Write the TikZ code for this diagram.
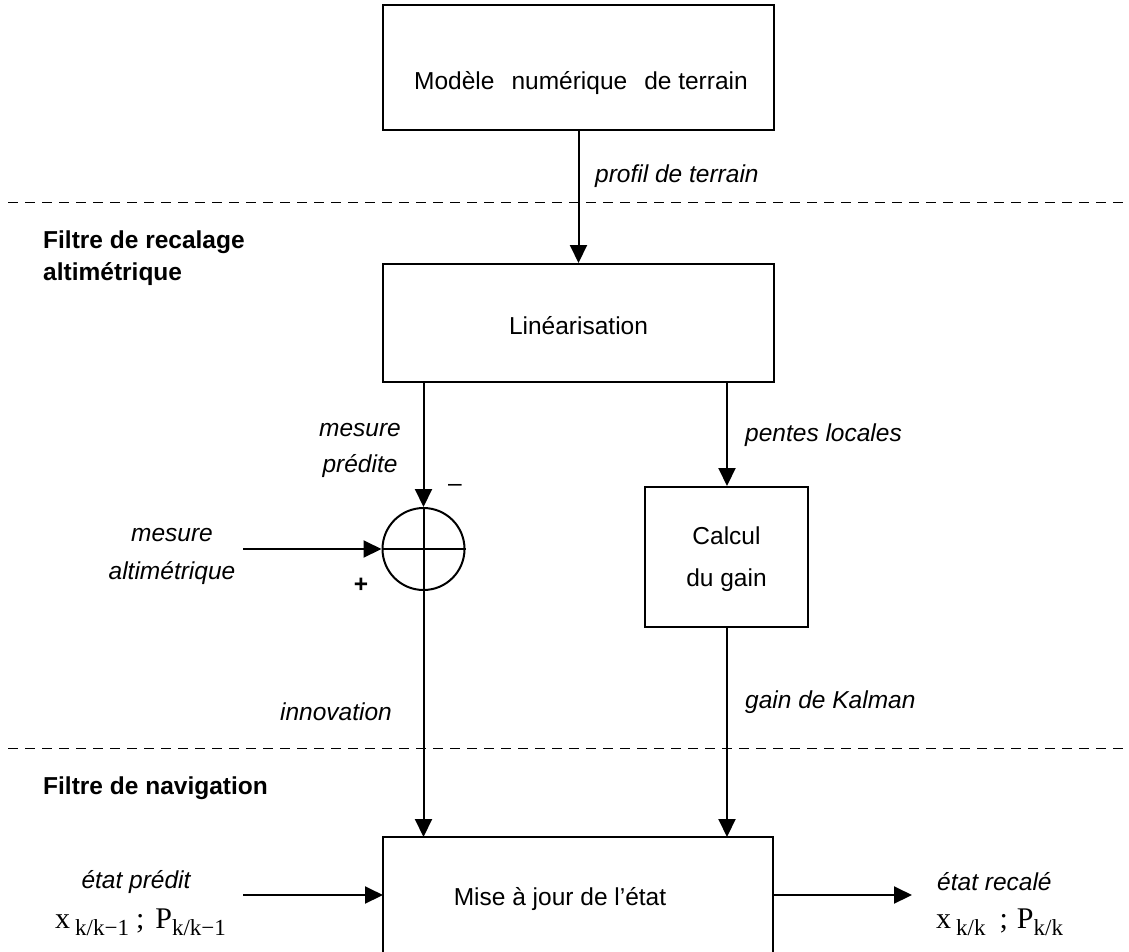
\documentclass[tikz,border=0pt]{standalone}
\usepackage{fontspec}
\setmainfont{Liberation Sans}
\newfontfamily\tms{Liberation Serif}
\usetikzlibrary{arrows.meta}
\begin{document}
\begin{tikzpicture}[x=1pt,y=-1pt,
  every node/.style={font=\fontsize{24.5}{28}\selectfont, inner sep=0pt},
  blk/.style={draw, line width=2pt, rectangle, anchor=center},
  con/.style={line width=2pt, -{Triangle[length=18pt,width=17pt]}},
  sep/.style={line width=0.9pt, dash pattern=on 10pt off 7pt},
  lab/.style={font=\fontsize{24.5}{28}\selectfont\itshape},
  ttl/.style={font=\fontsize{24.5}{28}\selectfont\bfseries, anchor=west},
  mth/.style={font=\tms\fontsize{30}{34}\selectfont, anchor=west}]
\clip (0,0) rectangle (1129,951);
% boxes
\node[blk, minimum width=391pt, minimum height=125pt] (mnt) at (578.5,67.5) {};
\node (mnttxt) at (581,83) {Modèle\hspace{17pt}numérique\hspace{17pt}de terrain};
\node[blk, minimum width=391pt, minimum height=118pt] (lin) at (578.5,323) {};
\node (lintxt) at (578.5,326) {Linéarisation};
\node[blk, minimum width=163pt, minimum height=140pt] (gain) at (726.5,557) {};
\node[align=center] (gaintxt) at (726.5,559) {Calcul\\[14pt]du gain};
\node[blk, minimum width=390pt, minimum height=160pt] (maj) at (578,917) {};
\node (majtxt) at (560,899) {Mise à jour de l’état};
% summation
\node[draw, circle, line width=2pt, minimum size=82pt] (sum) at (423.5,549) {};
\draw[line width=2pt] (sum.west) -- (sum.east);
% dashed separators
\draw[sep] (8,202) -- (1129,202);
\draw[sep] (8,748) -- (1129,748);
% titles
\node[ttl] (t1) at (43,242) {Filtre de recalage};
\node[ttl] (t2) at (43,274) {altimétrique};
\node[ttl] (t3) at (43,788) {Filtre de navigation};
% connectors
\draw[con] (mnt.south) -- (lin.north);
\coordinate (linL) at (423.5,382);
\coordinate (linR) at (727,382);
\draw[con] (linL) -- (sum.north);
\draw[con] (linR) -- (linR |- gain.north);
\coordinate (majL) at (423.5,837);
\coordinate (majR) at (727,837);
\draw[line width=2pt] (sum.north) -- (sum.south);
\draw[con] (sum.south) -- (majL);
\draw[con] (gain.south -| majR) -- (majR);
\coordinate (inA) at (243,0);
\draw[con] (inA |- sum.west) -- (sum.west);
\coordinate (inB) at (243,895);
\coordinate (majW) at (383,895);
\draw[con] (inB) -- (majW);
\coordinate (majE) at (773,895);
\coordinate (outB) at (912,895);
\draw[con] (majE) -- (outB);
% labels
\node[lab, anchor=west] (l1) at (595,176) {profil de terrain};
\node[lab, align=center] (l2) at (360,450) {mesure\\[8pt]prédite};
\node[lab, anchor=west] (l3) at (745,435) {pentes locales};
\node (minus) at (455,488) {–};
\node (plus) at (361,585) {\bfseries +};
\node[lab, align=center] (l4) at (172,556) {mesure\\[10pt]altimétrique};
\node[lab] (l5) at (336,712) {innovation};
\node[lab, anchor=west] (l6) at (745,702) {gain de Kalman};
\node[lab] (l7) at (136,882) {état prédit};
\node[lab, anchor=west] (l8) at (937,882) {état recalé};
\node[mth] (m1) at (55,922) {x\hspace{5pt}\raisebox{-7pt}{\fontsize{23}{26}\selectfont k/k−1}\hspace{7pt};\hspace{11pt}P\raisebox{-7pt}{\fontsize{23}{26}\selectfont k/k−1}};
\node[mth] (m2) at (936,922) {x\hspace{5pt}\raisebox{-7pt}{\fontsize{23}{26}\selectfont k/k}\hspace{14pt};\hspace{9pt}P\raisebox{-7pt}{\fontsize{23}{26}\selectfont k/k}};
\end{tikzpicture}
\end{document}
